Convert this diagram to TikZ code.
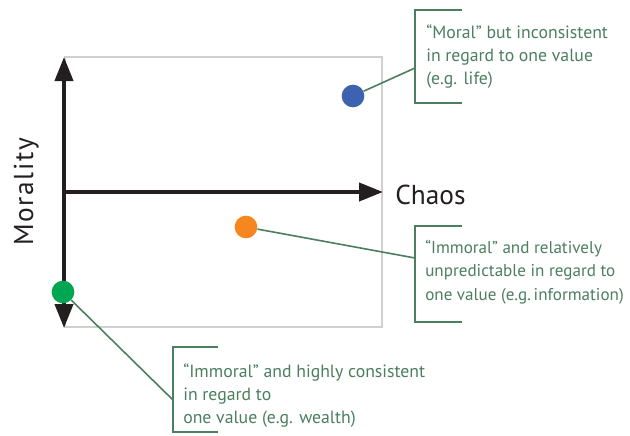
\documentclass[tikz,border=0pt]{standalone}
\usepackage{fontspec}
\setmainfont{PT Sans}
\usetikzlibrary{arrows.meta}
\definecolor{axisblack}{HTML}{231F20}
\definecolor{framegray}{HTML}{D0D0D0}
\definecolor{dotblue}{HTML}{3D63B0}
\definecolor{dotorange}{HTML}{F6861F}
\definecolor{dotgreen}{HTML}{00A651}
\definecolor{callgreen}{HTML}{4C7F5F}
\tikzset{
  axisline/.style={draw=axisblack, line width=3pt, -{Triangle[width=13.5pt,length=18pt]}},
  dot/.style={circle, minimum size=17pt, inner sep=0pt},
  bracketline/.style={draw=callgreen, line width=1.6pt},
  linkline/.style={draw=callgreen, line width=1.2pt},
  calltext/.style={anchor=north west, inner sep=0pt, align=left, text=callgreen,
    font=\fontsize{13.3}{17.5}\selectfont},
  axislabel/.style={text=axisblack, inner sep=0pt, font=\fontsize{20.5}{24}\selectfont}
}
\begin{document}
\begin{tikzpicture}[x=0.75pt,y=-0.75pt]
\path[use as bounding box, fill=white] (0,0) rectangle (630,435);
% frame
\draw[framegray, line width=0.8pt] (65,57) rectangle (382,327);
% axes
\coordinate (vtop) at (64,57);
\coordinate (vbot) at (64,328);
\coordinate (origin) at (64,192);
\coordinate (hend) at (383,192);
\draw[axisline, {Triangle[width=13.5pt,length=18pt]}-{Triangle[width=13.5pt,length=18pt]}] (vbot) -- (vtop);
\draw[axisline] (origin) -- (hend);
\node[axislabel, anchor=base west] (chaos) at (395,204) {Chaos};
\node[axislabel, anchor=base, rotate=90] (morality) at (33,192) {M\kern1.2pt o\kern1.2pt r\kern1.2pt a\kern1.2pt l\kern1.2pt i\kern1.2pt t\kern1.2pt y};
% dots
\node[dot, fill=dotblue] (blue) at (353,96) {};
\node[dot, fill=dotorange] (orange) at (246,227) {};
\node[dot, fill=dotgreen] (green) at (63,292) {};
% callout 1
\coordinate (b1tr) at (462,10);
\coordinate (b1tl) at (415,10);
\coordinate (b1bl) at (415,103);
\coordinate (b1br) at (462,103);
\coordinate (b1m) at (415,68);
\draw[bracketline] (b1tr) -- (b1tl) -- (b1bl) -- (b1br);
\draw[linkline] (blue) -- (b1m);
\node[calltext] (t1) at (426,24) {“Moral” but inconsistent\\in regard to one value\\(e.g. life)};
% callout 2
\coordinate (b2tr) at (462,226);
\coordinate (b2tl) at (415,226);
\coordinate (b2bl) at (415,322);
\coordinate (b2br) at (462,322);
\coordinate (b2m) at (415,258);
\draw[bracketline] (b2tr) -- (b2tl) -- (b2bl) -- (b2br);
\draw[linkline] (orange) -- (b2m);
\node[calltext, font=\fontsize{12.8}{17.5}\selectfont] (t2) at (425,240) {“Immoral” and relatively\\unpredictable in regard to\\one value (e.g.\,information)};
% callout 3
\coordinate (b3tr) at (218,347);
\coordinate (b3tl) at (173,347);
\coordinate (b3bl) at (173,432);
\coordinate (b3br) at (218,432);
\coordinate (b3m) at (173,400);
\draw[bracketline] (b3tr) -- (b3tl) -- (b3bl) -- (b3br);
\draw[linkline] (green) -- (b3m);
\node[calltext] (t3) at (183,363) {“Immoral” and highly consistent\\in regard to\\one value (e.g. wealth)};
\end{tikzpicture}
\end{document}
